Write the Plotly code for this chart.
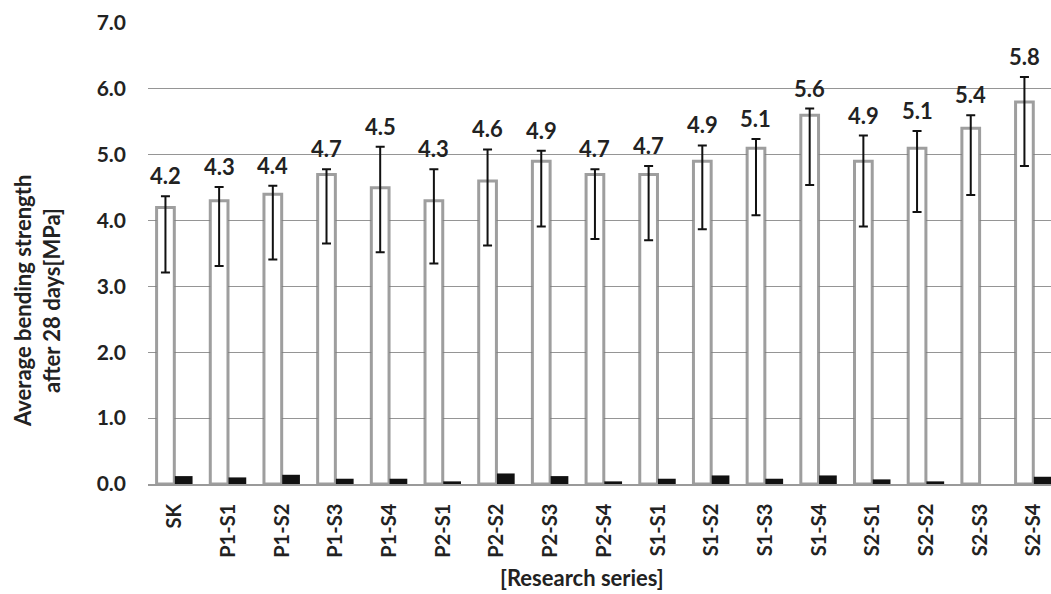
import plotly.graph_objects as go

categories = ["SK", "P1-S1", "P1-S2", "P1-S3", "P1-S4", "P2-S1", "P2-S2", "P2-S3", "P2-S4",
              "S1-S1", "S1-S2", "S1-S3", "S1-S4", "S2-S1", "S2-S2", "S2-S3", "S2-S4"]
strength = [4.2, 4.3, 4.4, 4.7, 4.5, 4.3, 4.6, 4.9, 4.7, 4.7, 4.9, 5.1, 5.6, 4.9, 5.1, 5.4, 5.8]
err_up = [0.17, 0.21, 0.13, 0.08, 0.62, 0.48, 0.48, 0.16, 0.08, 0.13, 0.24, 0.14, 0.10, 0.39, 0.26, 0.20, 0.38]
err_down = [0.99, 0.99, 0.99, 1.05, 0.98, 0.95, 0.98, 0.99, 0.98, 1.00, 1.03, 1.02, 1.06, 0.99, 0.97, 1.01, 0.97]
second_series = [0.12, 0.10, 0.14, 0.08, 0.08, 0.04, 0.16, 0.12, 0.04, 0.08, 0.13, 0.08, 0.13, 0.07, 0.04, 0.0, 0.11]
y_ticks = [0, 1, 2, 3, 4, 5, 6, 7]

FONT = "Lato"
TXT = "#222222"
BW = 0.35

xpos = list(range(len(categories)))

fig = go.Figure()
fig.add_trace(go.Bar(
    x=xpos, y=strength, width=BW - 0.02, offset=-BW + 0.01,
    marker=dict(color="white", line=dict(color="rgba(125,125,125,0.75)", width=3)),
    error_y=dict(type="data", symmetric=False, array=err_up, arrayminus=err_down,
                 color="#111111", thickness=2, width=4.5),
    showlegend=False,
))
fig.add_trace(go.Bar(
    x=xpos, y=second_series, width=BW - 0.02, offset=0.0,
    marker=dict(color="#111111", line=dict(width=0)),
    showlegend=False,
))

for i, v in enumerate(strength):
    fig.add_annotation(
        x=i - BW / 2, y=v + err_up[i], text=f"{v:.1f}", showarrow=False,
        yanchor="bottom", yshift=5,
        font=dict(family=FONT, size=22, color=TXT, weight="bold"),
    )

W, H = 1051, 594
L, T, B = 148, 23, 110
plot_w = W - L
plot_h = H - B - T


def px_x(p):
    return (p - L) / plot_w


def px_y(p):
    return ((H - B) - p) / plot_h


fig.add_annotation(
    xref="paper", yref="paper", x=px_x(582), y=px_y(593),
    text="[Research series]", showarrow=False, xanchor="center", yanchor="bottom",
    font=dict(family=FONT, size=22, color=TXT, weight="bold"),
)
fig.add_annotation(
    xref="paper", yref="paper", x=px_x(22), y=px_y(301),
    text="Average bending strength", showarrow=False, textangle=-90,
    xanchor="center", yanchor="middle",
    font=dict(family=FONT, size=22, color=TXT, weight="bold"),
)
fig.add_annotation(
    xref="paper", yref="paper", x=px_x(51), y=px_y(301),
    text="after 28 days[MPa]", showarrow=False, textangle=-90,
    xanchor="center", yanchor="middle",
    font=dict(family=FONT, size=22, color=TXT, weight="bold"),
)

fig.update_layout(
    width=W, height=H,
    margin=dict(l=L, r=0, t=T, b=B, autoexpand=False),
    paper_bgcolor="white", plot_bgcolor="white",
    barmode="overlay",
    xaxis=dict(
        range=[-0.5, 16.32], tickmode="array", tickvals=xpos, ticktext=categories,
        tickangle=-90, showgrid=False, showline=True, linecolor="#9a9a9a", linewidth=1.5,
        ticks="", ticklabelstandoff=10, automargin=False,
        tickfont=dict(family=FONT, size=20, color=TXT, weight="bold"),
    ),
    yaxis=dict(
        range=[0, 7], tickmode="array", tickvals=y_ticks,
        ticktext=[f"{t:.1f}" for t in y_ticks],
        showgrid=True, gridcolor="#959595", gridwidth=1.3, zeroline=False,
        ticks="", ticklabelstandoff=21, automargin=False,
        tickfont=dict(family=FONT, size=21, color=TXT, weight="bold"),
    ),
)

fig.write_html(
    "out.html",
    config={"displayModeBar": False},
    post_script="document.body.style.margin='0';document.body.style.overflow='hidden';",
)
